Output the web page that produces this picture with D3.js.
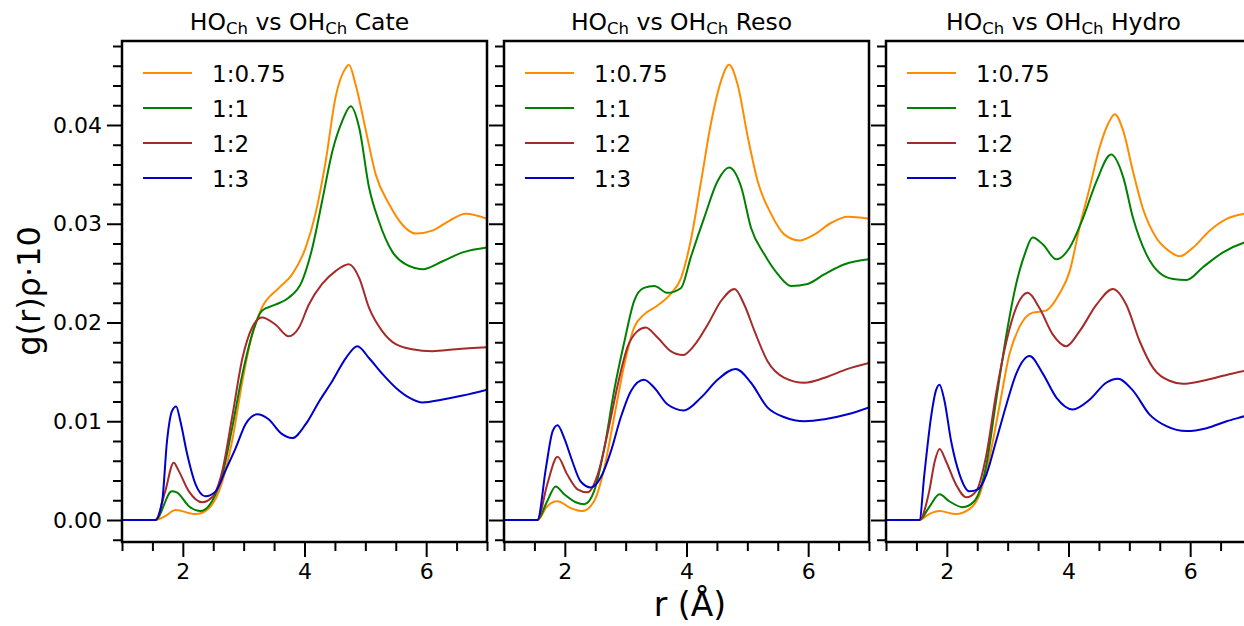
<!DOCTYPE html>
<html lang="en">
  <head>
    <meta charset="utf-8">
    <title>RDF HO vs OH</title>
    <script src="https://d3js.org/d3.v7.min.js"></script>
    <style>
      body { margin: 0; background: #fff; }
      text { font-family: "DejaVu Sans", sans-serif; fill: #000; }
    </style>
  </head>
  <body>
    <div id="chart"></div>
    <script type="text/javascript">
      // panel names and series labels
      const panels = ["Cate", "Reso", "Hydro"];
      const ratios = ["1:0.75", "1:1", "1:2", "1:3"];
      const xTicks = [2, 4, 6];
      const yTicks = [0.00, 0.01, 0.02, 0.03, 0.04];

      // [r, g(r)rho*10]
      const cate075 = [[1,0],[1.55,0],[1.71,0.0004],[1.88,0.001],[2.21,0.0006],[2.43,0.0012],[2.65,0.0039],[2.81,0.008],[2.98,0.0141],[3.14,0.0188],[3.3,0.0215],[3.58,0.0235],[3.8,0.0249],[4.02,0.0276],[4.18,0.031],[4.35,0.0364],[4.51,0.0428],[4.68,0.0458],[4.73,0.0461],[4.84,0.0441],[5.01,0.0394],[5.17,0.035],[5.39,0.032],[5.61,0.0299],[5.83,0.029],[6.1,0.0293],[6.38,0.0303],[6.65,0.031],[7,0.0305]];
      const cate1 = [[1,0],[1.55,0],[1.82,0.0029],[1.9,0.0028],[2.1,0.0014],[2.29,0.0009],[2.48,0.0019],[2.65,0.0046],[2.81,0.0093],[2.98,0.0148],[3.14,0.0188],[3.3,0.0212],[3.52,0.0218],[3.74,0.0225],[3.96,0.0242],[4.13,0.0276],[4.29,0.0323],[4.46,0.0374],[4.62,0.0404],[4.76,0.0419],[4.9,0.0397],[5.06,0.0337],[5.22,0.0303],[5.44,0.0272],[5.66,0.0259],[5.94,0.0254],[6.27,0.0262],[6.6,0.0271],[7,0.0276]];
      const cate2 = [[1,0],[1.55,0],[1.71,0.0029],[1.85,0.0058],[1.93,0.005],[2.1,0.0029],[2.32,0.0018],[2.48,0.0023],[2.65,0.005],[2.81,0.0104],[2.98,0.0164],[3.14,0.0195],[3.3,0.0205],[3.52,0.0198],[3.74,0.0186],[3.91,0.0195],[4.07,0.0218],[4.29,0.0239],[4.51,0.0252],[4.73,0.0259],[4.9,0.0245],[5.06,0.0215],[5.28,0.0191],[5.5,0.0178],[5.77,0.0173],[6.1,0.0171],[6.49,0.0173],[7,0.0175]];
      const cate3 = [[1,0],[1.55,0],[1.66,0.0019],[1.74,0.008],[1.82,0.011],[1.89,0.0115],[1.96,0.01],[2.07,0.0067],[2.21,0.0036],[2.37,0.0024],[2.54,0.0029],[2.7,0.005],[2.87,0.0073],[3.03,0.0097],[3.22,0.0107],[3.41,0.0102],[3.61,0.0088],[3.8,0.0083],[4.02,0.0097],[4.24,0.012],[4.46,0.0141],[4.68,0.0164],[4.87,0.0176],[5.06,0.0164],[5.28,0.0148],[5.5,0.0134],[5.72,0.0124],[5.94,0.0119],[6.27,0.0122],[6.6,0.0126],[7,0.0132]];

      const reso075 = [[1,0],[1.55,0],[1.71,0.0014],[1.88,0.0019],[2.1,0.0012],[2.29,0.0009],[2.48,0.0019],[2.65,0.0053],[2.81,0.0104],[2.98,0.0158],[3.14,0.0195],[3.3,0.0208],[3.52,0.0217],[3.74,0.0229],[3.91,0.0245],[4.07,0.0283],[4.24,0.0343],[4.4,0.0401],[4.57,0.0445],[4.7,0.0461],[4.84,0.0441],[5.01,0.0387],[5.17,0.0343],[5.39,0.031],[5.61,0.0289],[5.86,0.0283],[6.1,0.0289],[6.38,0.0301],[6.65,0.0307],[7,0.0305]];
      const reso1 = [[1,0],[1.55,0],[1.71,0.0019],[1.85,0.0034],[1.99,0.0026],[2.18,0.0018],[2.32,0.0016],[2.48,0.0029],[2.65,0.0073],[2.81,0.0131],[2.98,0.0181],[3.14,0.0222],[3.3,0.0235],[3.47,0.0237],[3.69,0.023],[3.91,0.0235],[4.07,0.0266],[4.29,0.0306],[4.51,0.0343],[4.7,0.0357],[4.9,0.0337],[5.06,0.0296],[5.28,0.0269],[5.5,0.0249],[5.72,0.0237],[5.99,0.0239],[6.27,0.0249],[6.6,0.0259],[7,0.0264]];
      const reso2 = [[1,0],[1.55,0],[1.71,0.0036],[1.88,0.0064],[2.04,0.0046],[2.21,0.0031],[2.37,0.0028],[2.54,0.0046],[2.7,0.0087],[2.87,0.0137],[3.03,0.0175],[3.19,0.0191],[3.33,0.0195],[3.52,0.0185],[3.74,0.0171],[3.94,0.0167],[4.13,0.0177],[4.35,0.0198],[4.57,0.0222],[4.79,0.0234],[4.95,0.0218],[5.12,0.0191],[5.33,0.0161],[5.61,0.0144],[5.94,0.0139],[6.27,0.0144],[6.65,0.0153],[7,0.0159]];
      const reso3 = [[1,0],[1.55,0],[1.69,0.0053],[1.8,0.009],[1.88,0.0096],[1.99,0.0083],[2.12,0.006],[2.26,0.0039],[2.43,0.0033],[2.59,0.0043],[2.76,0.007],[2.92,0.0104],[3.09,0.0131],[3.3,0.0142],[3.47,0.0134],[3.69,0.0117],[3.96,0.0111],[4.24,0.0124],[4.51,0.0142],[4.81,0.0153],[5.06,0.0139],[5.33,0.0114],[5.61,0.0104],[5.94,0.01],[6.27,0.0102],[6.65,0.0107],[7,0.0114]];

      const hydro075 = [[1,0],[1.55,0],[1.71,0.0006],[1.88,0.0009],[2.15,0.0006],[2.37,0.0011],[2.54,0.0026],[2.7,0.0063],[2.87,0.0117],[3.03,0.0168],[3.19,0.0195],[3.41,0.021],[3.63,0.0212],[3.85,0.0229],[4.02,0.0252],[4.18,0.0296],[4.35,0.0337],[4.51,0.0377],[4.65,0.0401],[4.76,0.0411],[4.9,0.0394],[5.06,0.0353],[5.22,0.0316],[5.44,0.0286],[5.66,0.0272],[5.83,0.0267],[6.05,0.0276],[6.32,0.0293],[6.6,0.0305],[6.89,0.031],[7,0.0311]];
      const hydro1 = [[1,0],[1.55,0],[1.71,0.0013],[1.88,0.0026],[2.04,0.0019],[2.26,0.0013],[2.45,0.0019],[2.65,0.0056],[2.81,0.0121],[2.98,0.0188],[3.14,0.0239],[3.28,0.0269],[3.41,0.0286],[3.58,0.0279],[3.8,0.0264],[4.02,0.0276],[4.24,0.0306],[4.46,0.0343],[4.7,0.037],[4.9,0.0347],[5.06,0.0306],[5.28,0.0269],[5.5,0.025],[5.72,0.0244],[5.94,0.0243],[6.21,0.0256],[6.54,0.0271],[6.89,0.0281],[7,0.0283]];
      const hydro2 = [[1,0],[1.55,0],[1.71,0.0029],[1.8,0.0059],[1.88,0.0072],[1.99,0.0059],[2.15,0.0036],[2.32,0.0023],[2.48,0.0029],[2.65,0.0066],[2.81,0.0128],[2.98,0.0181],[3.14,0.0215],[3.33,0.023],[3.52,0.0215],[3.74,0.0188],[3.96,0.0176],[4.18,0.0191],[4.46,0.0218],[4.73,0.0234],[4.95,0.0218],[5.17,0.0181],[5.39,0.0154],[5.66,0.0141],[5.88,0.0138],[6.21,0.0141],[6.54,0.0146],[6.89,0.0151],[7,0.0152]];
      const hydro3 = [[1,0],[1.55,0],[1.63,0.0046],[1.74,0.0104],[1.82,0.0131],[1.88,0.0137],[1.96,0.0121],[2.07,0.008],[2.21,0.0046],[2.37,0.0029],[2.51,0.0031],[2.65,0.0046],[2.81,0.008],[2.98,0.0117],[3.14,0.0148],[3.36,0.0166],[3.58,0.0148],[3.8,0.0124],[4.07,0.0112],[4.35,0.0122],[4.62,0.0139],[4.81,0.0143],[5.06,0.0131],[5.33,0.0107],[5.61,0.0095],[5.94,0.009],[6.27,0.0093],[6.6,0.01],[6.89,0.0105],[7,0.0107]];

      const seriesByPanel = [
        [cate075, cate1, cate2, cate3],
        [reso075, reso1, reso2, reso3],
        [hydro075, hydro1, hydro2, hydro3]
      ];

      const colors = ["#ff8c00", "#008000", "#a52a2a", "#0000cd"];

      const width = 1244, height = 626;
      const panelLeft = [122, 504, 886];
      const panelW = 365;
      const plotTop = 41, plotBottom = 542;

      const svg = d3.select("#chart").append("svg")
        .attr("width", width)
        .attr("height", height);

      const y = d3.scaleLinear()
        .domain([-0.002228, 0.048506])
        .range([plotBottom, plotTop]);

      const yMinor = d3.range(-0.002, 0.0485, 0.002).filter(v => Math.abs(Math.round(v * 100) - v * 100) > 1e-6);
      const xMinor = d3.range(1, 7.01, 0.5).filter(v => !xTicks.includes(v));

      panels.forEach(function(name, p) {
        const x = d3.scaleLinear()
          .domain([1, 7])
          .range([panelLeft[p], panelLeft[p] + panelW]);

        const g = svg.append("g");

        // clip to the plot box
        g.append("clipPath").attr("id", "clip" + p)
          .append("rect")
          .attr("x", panelLeft[p]).attr("y", plotTop)
          .attr("width", panelW).attr("height", plotBottom - plotTop);

        const line = d3.line()
          .x(d => x(d[0]))
          .y(d => y(d[1]))
          .curve(d3.curveMonotoneX);

        g.append("g").attr("clip-path", "url(#clip" + p + ")")
          .selectAll("path")
          .data(seriesByPanel[p])
          .enter()
          .append("path")
            .attr("d", line)
            .attr("fill", "none")
            .attr("stroke", (d, i) => colors[i])
            .attr("stroke-width", 2);

        // x axis: major + minor ticks
        const xAxis = d3.axisBottom(x).tickValues(xTicks).tickFormat(d3.format("d"))
          .tickSize(15).tickPadding(6);
        g.append("g").attr("transform", "translate(0," + plotBottom + ")").call(xAxis);
        g.append("g").attr("transform", "translate(0," + plotBottom + ")")
          .call(d3.axisBottom(x).tickValues(xMinor).tickSize(9).tickFormat(""));

        // y axis
        const yAxis = d3.axisLeft(y).tickValues(yTicks).tickSize(15).tickPadding(5)
          .tickFormat(p == 0 ? d3.format(".2f") : "");
        g.append("g").attr("transform", "translate(" + panelLeft[p] + ",0)").call(yAxis);
        g.append("g").attr("transform", "translate(" + panelLeft[p] + ",0)")
          .call(d3.axisLeft(y).tickValues(yMinor).tickSize(9).tickFormat(""));

        g.selectAll(".domain").remove();
        g.selectAll(".tick line").attr("stroke", "#000").attr("stroke-width", 2);
        g.selectAll(".tick text").style("font-size", "22px").attr("fill", "#000");

        // frame
        g.append("rect")
          .attr("x", panelLeft[p]).attr("y", plotTop)
          .attr("width", panelW).attr("height", plotBottom - plotTop)
          .attr("fill", "none")
          .attr("stroke", "#000")
          .attr("stroke-width", 2.5);

        // title with subscripts
        const title = g.append("text")
          .attr("x", panelLeft[p] + panelW / 2 - 5)
          .attr("y", 30)
          .attr("text-anchor", "middle")
          .style("font-size", "23.5px");
        title.append("tspan").text("HO");
        title.append("tspan").attr("dy", 4).style("font-size", "16.5px").text("Ch");
        title.append("tspan").attr("dy", -4).text(" vs OH");
        title.append("tspan").attr("dy", 4).style("font-size", "16.5px").text("Ch");
        title.append("tspan").attr("dy", -4).text(" " + name);

        // legend
        const leg = g.append("g")
          .selectAll("g")
          .data(ratios)
          .enter()
          .append("g")
            .attr("transform", (d, i) => "translate(" + (panelLeft[p] + 21) + "," + (73 + i * 35) + ")");
        leg.append("line")
          .attr("x1", 0).attr("x2", 49)
          .attr("stroke", (d, i) => colors[i])
          .attr("stroke-width", 2);
        leg.append("text")
          .attr("x", 69).attr("y", 8.5)
          .style("font-size", "23px")
          .text(d => d);
      });

      // axis labels
      svg.append("text")
        .attr("transform", "translate(40, 291)rotate(-90)")
        .attr("text-anchor", "middle")
        .style("font-size", "32px")
        .text("g(r)ρ·10");

      svg.append("text")
        .attr("x", 690)
        .attr("y", 616)
        .attr("text-anchor", "middle")
        .style("font-size", "33px")
        .text("r (Å)");
    </script>
  </body>
</html>
